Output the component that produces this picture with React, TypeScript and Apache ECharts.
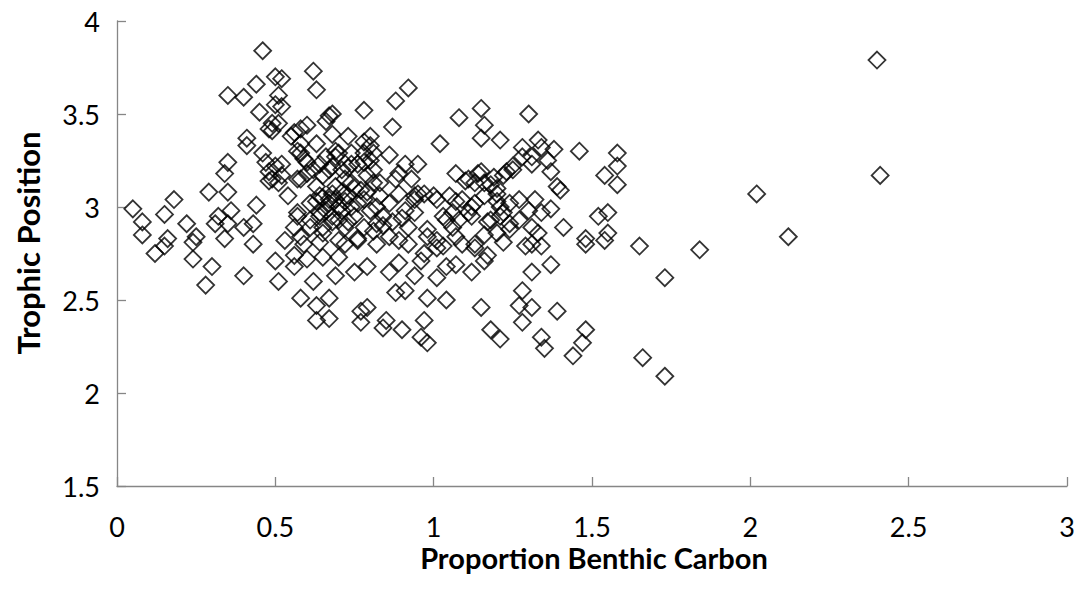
import React, { useEffect, useRef } from "react";
import * as echarts from "echarts";

// Proportion benthic carbon (x) and trophic position (y)
const proportionBenthic: number[] = [
  0.05, 0.08, 0.08, 0.15, 0.18, 0.22, 0.16, 0.15, 0.12, 0.24, 0.24, 0.30, 0.28, 0.40, 0.34, 0.43, 0.50, 0.51, 0.29, 0.35,
  0.36, 0.32, 0.31, 0.35, 0.40, 0.43, 0.44, 0.25, 0.35, 0.34, 0.41, 0.41, 0.46, 0.47, 0.48, 0.49, 0.46, 0.50, 0.44, 0.35,
  0.40, 0.45, 0.50, 0.49, 0.49,
  0.51, 0.62, 0.63, 0.52, 0.52, 0.51, 0.48, 0.58, 0.60, 0.67, 0.66, 0.78, 0.55, 0.58, 0.63, 0.50, 0.57, 0.59, 0.66, 0.70,
  0.73, 0.78, 0.67, 0.60, 0.52, 0.48, 0.51, 0.58, 0.73, 0.78, 0.81, 0.56, 0.68, 0.80, 0.80, 0.69, 0.60, 0.64, 0.86, 0.95,
  0.89, 0.52, 0.54, 0.97, 1.01, 0.94, 0.57, 0.56, 0.61, 0.64, 0.65, 0.98, 1.04, 0.78, 0.74, 0.79, 0.83, 0.68, 0.88, 0.92,
  0.87, 1.02, 0.68,
  0.58, 0.69, 0.74, 0.91, 0.57, 0.62, 0.63, 0.81, 0.81, 0.88, 0.93, 0.89, 0.57, 0.61, 0.58, 0.65, 0.70, 0.76, 0.81, 0.86,
  0.89, 0.92, 0.71, 0.75, 0.80, 0.84, 0.67, 0.73, 0.78, 0.64, 0.61, 0.69, 0.74, 0.77, 0.86, 0.83, 0.65, 0.71, 0.76, 0.80,
  0.68, 0.64, 0.82, 0.78, 0.72, 0.91, 0.94, 0.94, 0.63, 0.65, 0.67, 0.69, 0.70, 0.72, 0.66, 0.68, 0.71, 0.74, 0.76, 0.70,
  0.73, 0.68, 0.75, 0.72, 0.79, 0.82, 0.84, 0.87, 0.90,
  1.07, 1.15, 1.22, 1.25, 1.28, 1.31, 1.11, 1.13, 1.18, 1.20, 0.95, 1.00, 1.05, 1.09, 1.13, 1.16, 1.03, 1.06, 1.08, 1.11,
  1.06, 1.18, 1.21, 1.24, 1.27, 1.21, 1.27, 1.30, 1.31, 1.24, 1.16, 0.98, 1.01, 1.09, 1.03, 1.31,
  1.15, 1.08, 1.30, 1.16, 1.15, 1.21, 1.33, 1.28, 1.34, 1.38, 1.46, 1.58, 1.54, 1.58, 1.58, 1.31, 1.36, 1.37, 1.39, 1.40,
  1.23, 1.25, 1.14, 1.19, 1.20, 1.16, 1.10, 1.07, 1.12, 1.12, 1.20, 1.22, 1.32, 1.37, 1.34, 1.41, 1.52, 1.55, 1.17, 1.24,
  1.33, 1.07, 1.48, 1.55, 1.20,
  0.56, 0.62, 0.58, 0.63, 0.67, 0.63, 0.67, 0.69, 0.75, 0.79, 0.60, 0.56, 0.65, 0.70, 0.79, 0.77, 0.77, 0.85, 0.84, 0.90,
  0.86, 0.88, 0.91, 0.94, 0.97, 0.96, 0.98, 0.98, 1.01, 0.97, 0.96, 1.04, 1.04, 1.01, 0.89, 0.53, 0.59, 0.64, 0.72, 0.76,
  0.82, 0.92,
  1.15, 1.18, 1.21, 1.28, 1.27, 1.31, 1.28, 1.39, 1.34, 1.35, 1.48, 1.47, 1.44, 1.07, 1.12, 1.16, 1.31, 1.37, 1.48, 1.54,
  1.13, 1.17, 1.29, 1.34, 1.22, 1.13,
  2.40, 2.41, 2.02, 2.12, 1.84, 1.65, 1.73, 1.66, 1.73,
];

const trophicPosition: number[] = [
  2.99, 2.92, 2.85, 2.96, 3.04, 2.91, 2.83, 2.79, 2.75, 2.81, 2.72, 2.68, 2.58, 2.63, 2.83, 2.80, 2.71, 2.60, 3.08, 3.08,
  2.98, 2.95, 2.91, 2.91, 2.89, 2.91, 3.01, 2.84, 3.24, 3.18, 3.37, 3.33, 3.29, 3.24, 3.19, 3.15, 3.84, 3.70, 3.66, 3.60,
  3.59, 3.51, 3.55, 3.41, 3.45,
  3.60, 3.73, 3.63, 3.69, 3.54, 3.45, 3.42, 3.42, 3.44, 3.49, 3.46, 3.52, 3.38, 3.34, 3.34, 3.22, 3.30, 3.26, 3.27, 3.29,
  3.38, 3.35, 3.20, 3.18, 3.17, 3.14, 3.13, 3.15, 3.21, 3.24, 3.29, 3.40, 3.39, 3.38, 3.33, 3.30, 3.24, 3.23, 3.28, 3.23,
  3.18, 3.23, 3.06, 3.07, 3.04, 3.04, 2.97, 2.89, 2.93, 2.95, 2.89, 2.88, 2.93, 3.29, 3.23, 3.17, 3.13, 3.22, 3.57, 3.64,
  3.43, 3.34, 3.50,
  3.29, 3.27, 3.29, 3.23, 3.15, 3.20, 3.11, 3.20, 3.13, 3.15, 3.15, 3.07, 2.95, 2.89, 2.84, 2.86, 2.82, 2.83, 2.87, 2.84,
  2.82, 2.89, 2.98, 2.95, 2.98, 2.95, 3.04, 3.06, 3.04, 3.06, 3.02, 3.11, 3.13, 3.09, 3.02, 3.06, 3.17, 3.20, 3.23, 3.25,
  2.95, 2.97, 2.91, 2.89, 2.89, 2.98, 2.97, 3.06, 3.03, 3.05, 3.02, 3.04, 3.00, 3.03, 2.98, 3.07, 3.08, 3.00, 3.02, 2.93,
  2.92, 2.92, 3.10, 3.15, 3.08, 3.00, 2.90, 2.92, 2.94,
  3.18, 3.19, 3.17, 3.20, 3.27, 3.23, 3.15, 3.13, 3.12, 3.07, 3.07, 3.06, 3.06, 3.04, 3.02, 3.06, 2.95, 2.97, 2.93, 2.97,
  2.89, 2.93, 3.00, 3.02, 3.04, 2.95, 2.93, 2.98, 2.89, 2.88, 2.85, 2.84, 2.82, 2.80, 2.79, 2.80,
  3.53, 3.48, 3.50, 3.44, 3.37, 3.36, 3.36, 3.32, 3.32, 3.31, 3.30, 3.29, 3.17, 3.22, 3.12, 3.27, 3.25, 3.19, 3.11, 3.09,
  3.19, 3.22, 3.18, 3.16, 3.10, 3.13, 3.14, 3.03, 3.00, 2.95, 3.03, 2.97, 3.04, 2.99, 2.97, 2.89, 2.95, 2.97, 2.92, 2.91,
  2.86, 2.84, 2.83, 2.86, 2.86,
  2.68, 2.60, 2.51, 2.47, 2.51, 2.39, 2.40, 2.63, 2.65, 2.68, 2.72, 2.74, 2.73, 2.73, 2.46, 2.44, 2.38, 2.39, 2.35, 2.34,
  2.65, 2.54, 2.55, 2.63, 2.39, 2.30, 2.27, 2.51, 2.62, 2.75, 2.71, 2.50, 2.68, 2.78, 2.70, 2.82, 2.80, 2.81, 2.80, 2.82,
  2.80, 2.80,
  2.46, 2.34, 2.29, 2.55, 2.47, 2.46, 2.38, 2.44, 2.30, 2.24, 2.34, 2.27, 2.20, 2.69, 2.65, 2.71, 2.65, 2.69, 2.80, 2.82,
  2.78, 2.74, 2.79, 2.79, 2.81, 2.80,
  3.79, 3.17, 3.07, 2.84, 2.77, 2.79, 2.62, 2.19, 2.09,
];

const xTitle = "Proportion Benthic Carbon";
const yTitle = "Trophic Position";

export default function App() {
  const ref = useRef<HTMLDivElement>(null);
  useEffect(() => {
    if (!ref.current) return;
    const chart = echarts.init(ref.current, null, { renderer: "svg" });
    const points = proportionBenthic.map((x, i) => [x, trophicPosition[i]]);
    const font = "Lato, 'Open Sans', sans-serif";
    const axisColor = "#868686";
    chart.setOption({
      animation: false,
      backgroundColor: "#ffffff",
      grid: { left: 117, top: 21, right: 14, bottom: 106, containLabel: false },
      xAxis: {
        type: "value",
        min: 0,
        max: 3,
        interval: 0.5,
        axisLine: { show: true, lineStyle: { color: axisColor, width: 1.3 } },
        axisTick: { show: true, inside: true, length: 9, lineStyle: { color: axisColor, width: 1.3 } },
        splitLine: { show: false },
        axisLabel: { color: "#000", fontSize: 27, fontFamily: font, margin: 26, lineHeight: 28 },
      },
      yAxis: {
        type: "value",
        min: 1.5,
        max: 4,
        interval: 0.5,
        axisLine: { show: true, lineStyle: { color: axisColor, width: 1.3 } },
        axisTick: { show: true, inside: true, length: 9, lineStyle: { color: axisColor, width: 1.3 } },
        splitLine: { show: false },
        axisLabel: { color: "#000", fontSize: 27, fontFamily: font, margin: 17 },
      },
      graphic: [
        {
          type: "text",
          x: 594,
          y: 557,
          style: {
            text: xTitle,
            fill: "#000",
            font: `bold 29px ${font}`,
            textAlign: "center",
            textVerticalAlign: "middle",
          },
        },
        {
          type: "text",
          x: 28,
          y: 243,
          rotation: Math.PI / 2,
          style: {
            text: yTitle,
            fill: "#000",
            font: `bold 31px ${font}`,
            textAlign: "center",
            textVerticalAlign: "middle",
          },
        },
      ],
      series: [
        {
          type: "scatter",
          data: points,
          symbol: "diamond",
          symbolSize: 17,
          itemStyle: { color: "rgba(0,0,0,0)", borderColor: "#000", borderWidth: 1.8 },
          emphasis: { disabled: true },
        },
      ],
    });
    return () => chart.dispose();
  }, []);
  return (
    <div
      ref={ref}
      style={{ position: "fixed", left: 0, top: 0, width: 1081, height: 592, background: "#fff" }}
    />
  );
}
